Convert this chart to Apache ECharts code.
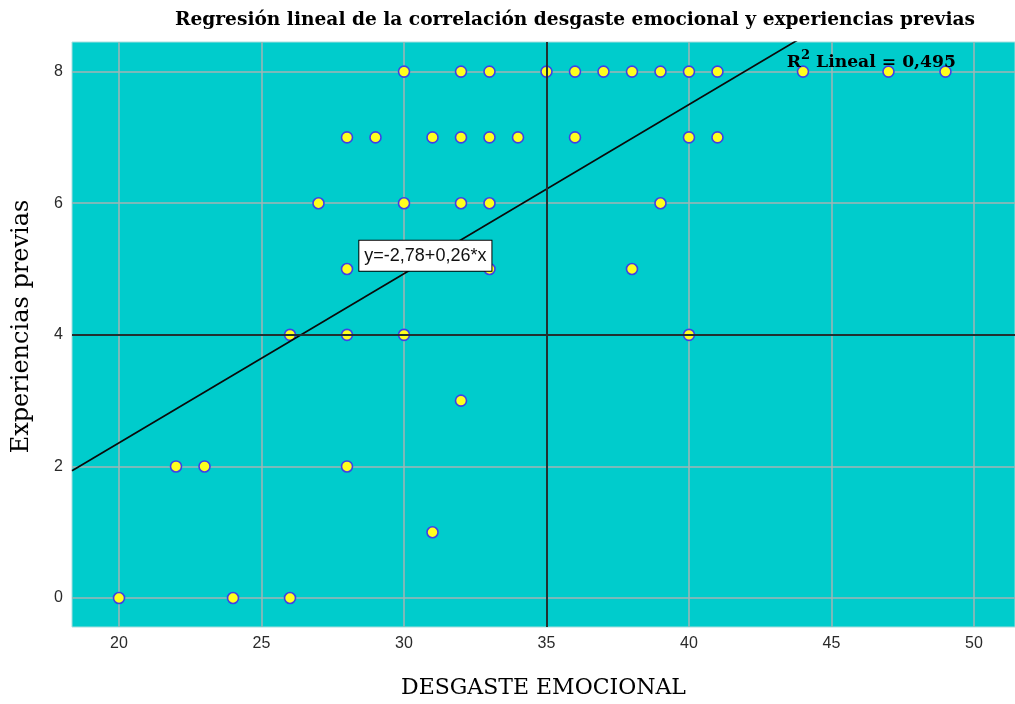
<!DOCTYPE html>
<html><head><meta charset="utf-8">
<script src="https://cdn.jsdelivr.net/npm/echarts@6/dist/echarts.min.js"></script>
<style>html,body{margin:0;padding:0;background:#fff}#c{width:1015px;height:704px}</style>
</head><body><div id="c"></div>
<script>
// Data
const desgaste = [30,32,33,35,36,37,38,39,40,41,44,47,49,
                  28,29,31,32,33,34,36,40,41,
                  27,30,32,33,39,
                  28,33,38,
                  26,28,30,40,
                  32,
                  22,23,28,
                  31,
                  20,24,26];
const experiencias = [8,8,8,8,8,8,8,8,8,8,8,8,8,
                      7,7,7,7,7,7,7,7,7,
                      6,6,6,6,6,
                      5,5,5,
                      4,4,4,4,
                      3,
                      2,2,2,
                      1,
                      0,0,0];
const xRange = [18.35, 51.44];
const yRange = [-0.44, 8.45];
const xStep = 5;
const yStep = 2;
const refX = 35;
const refY = 4;
const regIntercept = -2.78;
const regSlope = 0.257;
const titleText = 'Regresión lineal de la correlación desgaste emocional y experiencias previas';
const xName = 'DESGASTE EMOCIONAL';
const yName = 'Experiencias previas';
const equationText = 'y=-2,78+0,26*x';
const equationAt = [30.75, 5.2];
const r2Value = '0,495';
const r2At = [46.4, 8.18];

const points = desgaste.map((x, i) => [x, experiencias[i]]);
const regLine = xRange.map(x => [x, regIntercept + regSlope * x]);

const chart = echarts.init(document.getElementById('c'), null, {renderer: 'canvas'});
chart.setOption({
  animation: false,
  backgroundColor: '#ffffff',
  grid: {
    left: 72, right: 0, top: 42, bottom: 77,
    show: true, backgroundColor: '#00cccc', borderColor: '#a8dede', borderWidth: 1
  },
  graphic: [{
    type: 'text', x: 575, y: 20,
    style: {
      text: titleText, fill: '#000',
      font: 'bold 18.6px "DejaVu Serif"', textAlign: 'center', textVerticalAlign: 'middle'
    }
  }],
  xAxis: {
    type: 'value', min: xRange[0], max: xRange[1],
    minInterval: xStep, maxInterval: xStep,
    name: xName, nameLocation: 'middle', nameGap: 50,
    nameTextStyle: {fontFamily: 'DejaVu Serif', fontSize: 22, color: '#000'},
    axisLine: {show: false}, axisTick: {show: false},
    axisLabel: {showMinLabel: false, showMaxLabel: false, margin: 9,
      fontFamily: 'Liberation Sans', fontSize: 16, color: '#2a2a2a'},
    splitLine: {show: true, showMinLine: false, showMaxLine: false,
      lineStyle: {color: '#a2b4b4', width: 1.5}}
  },
  yAxis: {
    type: 'value', min: yRange[0], max: yRange[1],
    minInterval: yStep, maxInterval: yStep,
    name: yName, nameLocation: 'middle', nameGap: 38,
    nameTextStyle: {fontFamily: 'DejaVu Serif', fontSize: 24, color: '#000', padding: [0, 0, 0, 16]},
    axisLine: {show: false}, axisTick: {show: false},
    axisLabel: {showMinLabel: false, showMaxLabel: false, margin: 9,
      fontFamily: 'Liberation Sans', fontSize: 16, color: '#2a2a2a'},
    splitLine: {show: true, showMinLine: false, showMaxLine: false,
      lineStyle: {color: '#a2b4b4', width: 1.5}}
  },
  series: [
    {
      type: 'scatter', z: 2, data: points, symbol: 'circle', symbolSize: 11,
      itemStyle: {color: '#ffff1e', borderColor: '#4040e6', borderWidth: 1.6, opacity: 1}
    },
    {
      type: 'line', z: 3, data: regLine, symbol: 'none', clip: true,
      lineStyle: {color: '#0a0a0a', width: 1.7}
    },
    {
      type: 'line', z: 4, data: [],
      markLine: {
        silent: true, symbol: ['none', 'none'], label: {show: false},
        lineStyle: {color: '#223030', width: 2, type: 'solid'},
        data: [{xAxis: refX}, {yAxis: refY}]
      }
    },
    {
      type: 'line', z: 5, data: [],
      markPoint: {
        silent: true, symbol: 'rect', symbolSize: 1,
        itemStyle: {color: 'rgba(0,0,0,0)'},
        data: [
          {
            coord: equationAt, value: 0,
            label: {
              show: true, position: 'inside', formatter: equationText,
              backgroundColor: '#ffffff', borderColor: '#000', borderWidth: 1,
              padding: [6, 5, 6, 5], fontFamily: 'Liberation Sans', fontSize: 18, color: '#111'
            }
          },
          {
            coord: r2At, value: 0,
            label: {
              show: true, position: 'inside',
              formatter: '{r|R}{s|2}{r| Lineal = ' + r2Value + '}',
              rich: {
                r: {fontFamily: 'DejaVu Serif', fontWeight: 'bold', fontSize: 17.2, color: '#000', lineHeight: 22, verticalAlign: 'bottom'},
                s: {fontFamily: 'DejaVu Serif', fontWeight: 'bold', fontSize: 13, color: '#000', lineHeight: 16, verticalAlign: 'top'}
              }
            }
          }
        ]
      }
    }
  ]
});
</script></body></html>
